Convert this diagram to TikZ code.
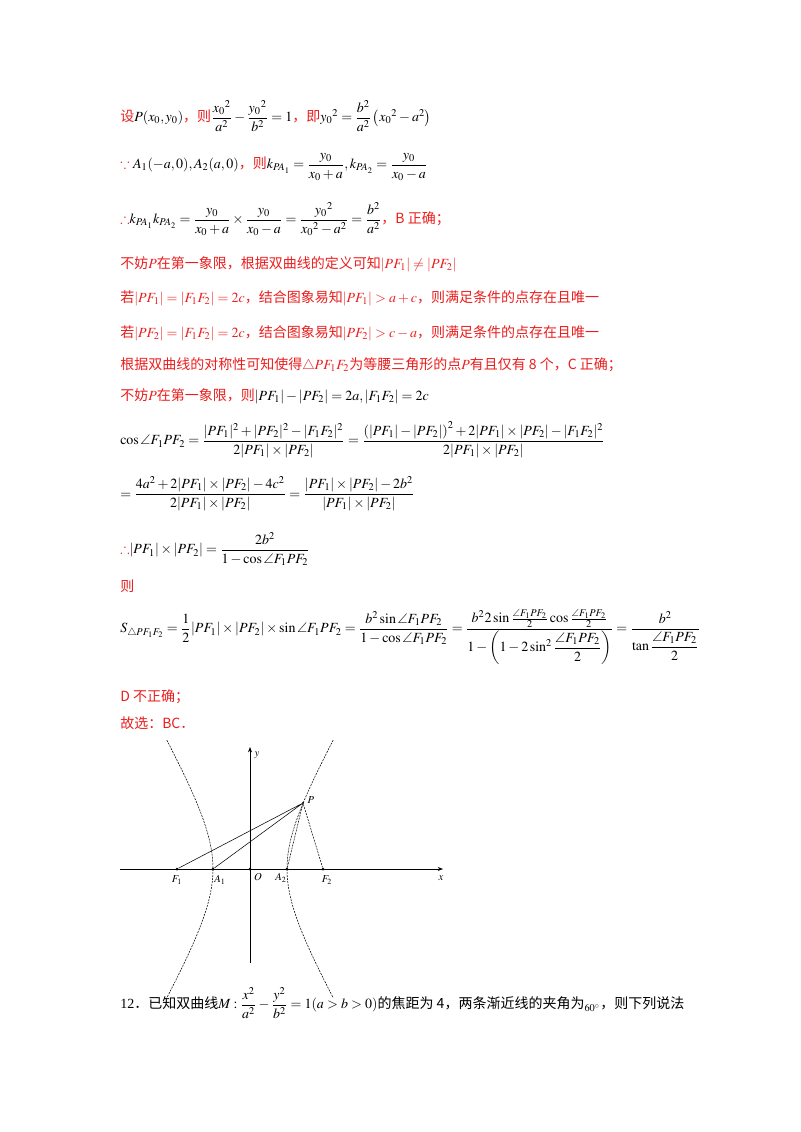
\documentclass[tikz,border=0pt]{standalone}
\usepackage{amsmath}
\usepackage{mathptmx}
\usepackage{amssymb}
\usepackage{fontspec}
\setmainfont{Liberation Serif}
\newfontfamily\cjk{Noto Sans CJK SC}
\definecolor{rd}{RGB}{235,30,30}
\usetikzlibrary{arrows.meta}
\begin{document}
\begin{tikzpicture}[x=0.75pt,y=-0.75pt,
  tx/.style={anchor=west,inner sep=0pt,font=\fontsize{10.5}{12}\selectfont},
  rt/.style={tx,text=rd},
  hyp/.style={dash pattern=on 1.5pt off 0.8pt,line width=0.4pt},
  ax/.style={line width=0.5pt,-{Stealth[length=4pt]}},
  dot/.style={circle,fill,inner sep=0.8pt},
  lb/.style={font=\fontsize{8}{9}\selectfont\itshape,inner sep=1pt}]
\fill[white] (0,0) rectangle (800,1132);
\node[tx] (l1) at (120,116) {\color{rd}\cjk 设\color{black}$P(x_0,y_0)$\color{rd}\cjk，则\color{black}$\dfrac{{x_0}^2}{a^2}-\dfrac{{y_0}^2}{b^2}=1$\color{rd}\cjk，即\color{black}${y_0}^2=\dfrac{b^2}{a^2}\left({x_0}^2-a^2\right)$};
\node[tx] (l2) at (120,167) {\color{rd}$\because$\ \color{black}$A_1(-a,0),A_2(a,0)$\color{rd}\cjk，则\color{black}$k_{PA_1}=\dfrac{y_0}{x_0+a},k_{PA_2}=\dfrac{y_0}{x_0-a}$};
\node[tx] (l3) at (120,219) {\color{rd}$\therefore$\color{black}$k_{PA_1}k_{PA_2}=\dfrac{y_0}{x_0+a}\times\dfrac{y_0}{x_0-a}=\dfrac{{y_0}^2}{{x_0}^2-a^2}=\dfrac{b^2}{a^2}$\color{rd}\cjk，B 正确；};
\node[rt] (l4) at (120,264) {\cjk 不妨$P$在第一象限，根据双曲线的定义可知$|PF_1|\neq|PF_2|$};
\node[rt] (l5) at (120,298) {\cjk 若$|PF_1|=|F_1F_2|=2c$，结合图象易知$|PF_1|>a+c$，则满足条件的点存在且唯一};
\node[rt] (l6) at (120,333) {\cjk 若$|PF_2|=|F_1F_2|=2c$，结合图象易知$|PF_2|>c-a$，则满足条件的点存在且唯一};
\node[rt] (l7) at (120,365) {\cjk 根据双曲线的对称性可知使得$\triangle PF_1F_2$为等腰三角形的点$P$有且仅有 8 个，C 正确；};
\node[rt] (l8) at (120,396) {\cjk 不妨$P$在第一象限，则\color{black}$|PF_1|-|PF_2|=2a,|F_1F_2|=2c$};
\node[tx] (l9) at (120,440) {$\cos\angle F_1PF_2=\dfrac{|PF_1|^2+|PF_2|^2-|F_1F_2|^2}{2|PF_1|\times|PF_2|}=\dfrac{\left(|PF_1|-|PF_2|\right)^2+2|PF_1|\times|PF_2|-|F_1F_2|^2}{2|PF_1|\times|PF_2|}$};
\node[tx] (l10) at (120,494) {$=\dfrac{4a^2+2|PF_1|\times|PF_2|-4c^2}{2|PF_1|\times|PF_2|}=\dfrac{|PF_1|\times|PF_2|-2b^2}{|PF_1|\times|PF_2|}$};
\node[tx] (l11) at (120,549) {\color{rd}$\therefore$\color{black}$|PF_1|\times|PF_2|=\dfrac{2b^2}{1-\cos\angle F_1PF_2}$};
\node[rt] (l12) at (120,586) {\cjk 则};
\node[tx] (l13) at (120,637) {$S_{\triangle PF_1F_2}=\dfrac12|PF_1|\times|PF_2|\times\sin\angle F_1PF_2=\dfrac{b^2\sin\angle F_1PF_2}{1-\cos\angle F_1PF_2}=\dfrac{b^2 2\sin\frac{\angle F_1PF_2}{2}\cos\frac{\angle F_1PF_2}{2}}{1-\left(1-2\sin^2\dfrac{\angle F_1PF_2}{2}\right)}=\dfrac{b^2}{\tan\dfrac{\angle F_1PF_2}{2}}$};
\node[rt] (l14) at (120,697) {\cjk D 不正确；};
\node[rt] (l15) at (120,723) {\cjk 故选：BC．};
\node[tx] (l16) at (120,1003) {12{\cjk ．已知双曲线}$M:\dfrac{x^2}{a^2}-\dfrac{y^2}{b^2}=1(a>b>0)$\cjk 的焦距为 4，两条渐近线的夹角为$_{60^\circ}$，则下列说法};
% figure
\coordinate (xs) at (120,869); \coordinate (xe) at (443,869);
\coordinate (ys) at (250,963); \coordinate (ye) at (250,747);
\draw[ax] (xs) -- (xe);
\draw[ax] (ys) -- (ye);
\node[dot] (O) at (250,869) {};
\node[dot] (F1) at (177,869) {};
\node[dot] (F2) at (323,869) {};
\node[dot] (A1) at (213,869) {};
\node[dot] (A2) at (287,869) {};
\node[inner sep=0.6pt,fill,circle] (P) at (303,803) {};
\begin{scope}[shift={(250,869)}]
\draw[hyp] plot[domain=-1.45:1.45,samples=60] ({37*cosh(\x)},{64*sinh(\x)});
\draw[hyp] plot[domain=-1.45:1.45,samples=60] ({-37*cosh(\x)},{64*sinh(\x)});
\end{scope}
\draw[line width=0.4pt] (F1) -- (P) (A1) -- (P);
\draw[hyp] (A2) -- (P) (P) -- (F2);
\node[lb,anchor=north] at (177,874) {$F_1$};
\node[lb,anchor=north] at (220,874) {$A_1$};
\node[lb,anchor=north] at (258,872) {$O$};
\node[lb,anchor=north] at (281,872) {$A_2$};
\node[lb,anchor=north] at (327,874) {$F_2$};
\node[lb,anchor=north] at (441,874) {$x$};
\node[lb,anchor=west] at (253,755) {$y$};
\node[lb,anchor=west] at (306,800) {$P$};
\end{tikzpicture}
\end{document}
